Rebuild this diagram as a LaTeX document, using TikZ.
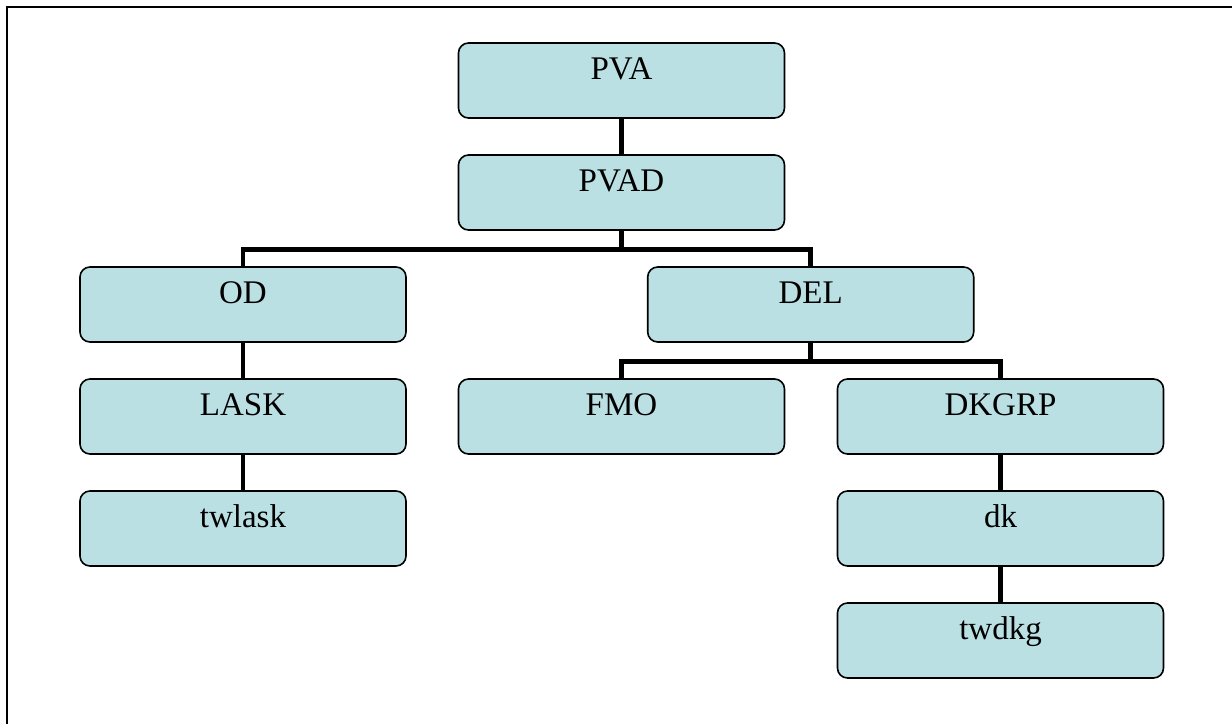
\documentclass[tikz,border=0pt]{standalone}
\usepackage{fontspec}
\setmainfont{Liberation Serif}
\definecolor{boxfill}{RGB}{187,224,227}

\begin{document}
\begin{tikzpicture}[x=0.5pt, y=-0.5pt,
    box/.style={draw=black, line width=0.8pt, fill=boxfill, rounded corners=5pt,
        minimum width=163pt, inner xsep=0pt, inner ysep=0pt,
        text height=18.3pt, text depth=19.2pt, font=\fontsize{16.5}{19}\selectfont},
    link/.style={line width=2.4pt}]
    \useasboundingbox (0,0) rectangle (1232,724);
    \draw [line width=1.2pt] (7,724) -- (7,7) -- (1232,7);
    \node (pva) at (621.5,80.5) [box] {PVA};
    \node (pvad) at (621.5,192.5) [box] {PVAD};
    \node (od) at (243,304.5) [box] {OD};
    \node (del) at (810.7,304.5) [box] {DEL};
    \node (lask) at (243,416.5) [box] {LASK};
    \node (fmo) at (621.5,416.5) [box] {FMO};
    \node (dkgrp) at (1000.5,416.5) [box] {DKGRP};
    \node (twlask) at (243,528.5) [box] {twlask};
    \node (dk) at (1000.5,528.5) [box] {dk};
    \node (twdkg) at (1000.5,640.5) [box] {twdkg};
    \draw [link] (pva) -- (pvad);
    \draw [link] (pvad.south) -- ++(0,18.5) -| (od.north);
    \draw [link] (pvad.south) -- ++(0,18.5) -| (del.north);
    \draw [link] (od) -- (lask);
    \draw [link] (lask) -- (twlask);
    \draw [link] (del.south) -- ++(0,19) -| (fmo.north);
    \draw [link] (del.south) -- ++(0,19) -| (dkgrp.north);
    \draw [link] (dkgrp) -- (dk);
    \draw [link] (dk) -- (twdkg);
\end{tikzpicture}
\end{document}
